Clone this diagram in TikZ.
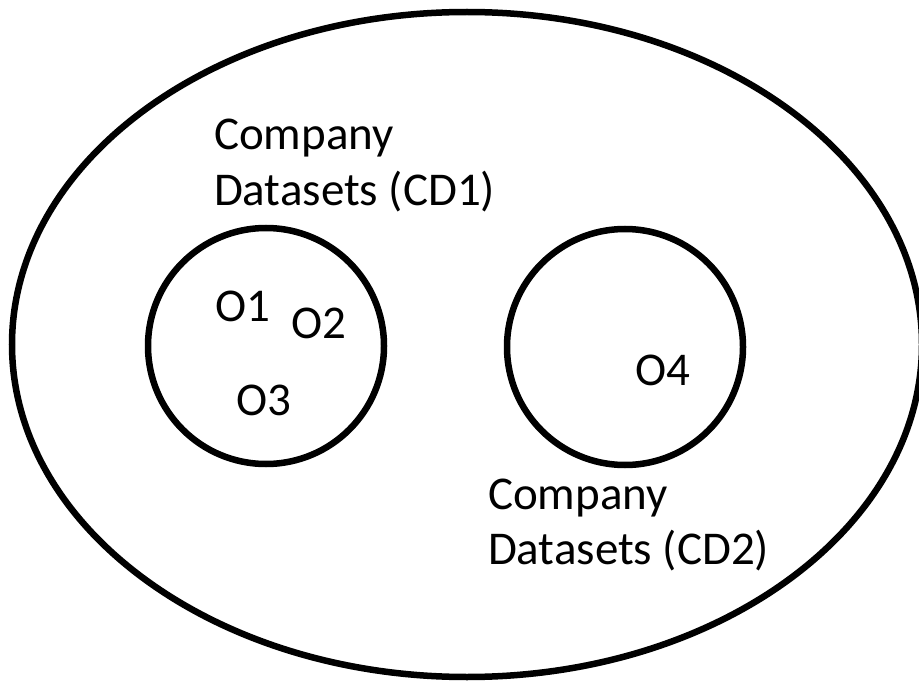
\documentclass[tikz,border=0pt]{standalone}
\usepackage{fontspec}
\usetikzlibrary{shapes.geometric}
\newfontfamily\cf{Carlito}
\begin{document}
\begin{tikzpicture}[x=1pt,y=-1pt,
  outline/.style={draw=black, line width=6.5pt, inner sep=0pt, outer sep=0pt},
  lbl/.style={anchor=base west, inner sep=0pt, outer sep=0pt, align=left,
    font=\cf\fontsize{47}{55.5}\selectfont, text=black}]
\useasboundingbox (0,0) rectangle (919,682);
\node[outline, ellipse, minimum width=910pt, minimum height=665pt] (world) at (467,344.5) {};
\node[outline, circle, minimum size=236pt] (cd1) at (266,346) {};
\node[outline, circle, minimum size=236pt] (cd2) at (625,347) {};
\node[lbl] (t1) at (214,150) {\begin{tabular}[t]{@{}l@{}}Company\\Datasets (CD1)\end{tabular}};
\node[lbl] (t2) at (488,509) {\begin{tabular}[t]{@{}l@{}}Company\\Datasets (CD2)\end{tabular}};
\node[lbl] (o1) at (215,321) {O1};
\node[lbl] (o2) at (291,338) {O2};
\node[lbl] (o3) at (236,415) {O3};
\node[lbl] (o4) at (635,385) {O4};
\end{tikzpicture}
\end{document}
